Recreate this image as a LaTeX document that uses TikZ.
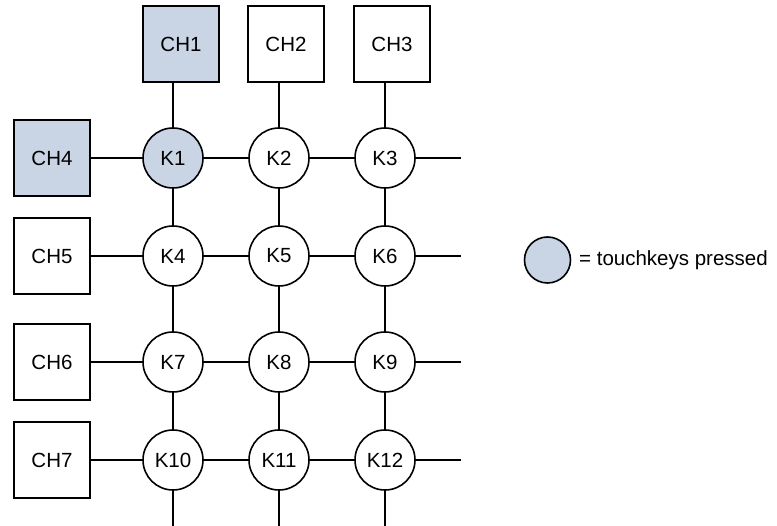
\documentclass[tikz,border=0pt]{standalone}
\usepackage{fontspec}
\setmainfont{Liberation Sans}
\definecolor{pressed}{HTML}{C9D5E5}
\tikzset{
  chbox/.style={draw, line width=1.6pt, minimum width=76pt, minimum height=76pt, inner sep=0pt, font=\fontsize{20.5}{24}\selectfont},
  keyc/.style={draw, circle, line width=1.6pt, minimum size=60pt, inner sep=0pt, font=\fontsize{20.5}{24}\selectfont},
  on/.style={fill=pressed},
  wire/.style={line width=1.6pt}
}
\begin{document}
\begin{tikzpicture}[x=1pt,y=-1pt]
\useasboundingbox (0,0) rectangle (777,526);
% keys
\node[keyc,on] (K1) at (173,158) {K1};
\node[keyc] (K2) at (279,158) {K2};
\node[keyc] (K3) at (385,158) {K3};
\node[keyc] (K4) at (173,256) {K4};
\node[keyc] (K5) at (279,256) {K5};
\node[keyc] (K6) at (385,256) {K6};
\node[keyc] (K7) at (173,362) {K7};
\node[keyc] (K8) at (279,362) {K8};
\node[keyc] (K9) at (385,362) {K9};
\node[keyc] (K10) at (173,460) {K10};
\node[keyc] (K11) at (279,460) {K11};
\node[keyc] (K12) at (385,460) {K12};
% channels
\node[chbox,on] (CH1) at (181,44) {CH1};
\node[chbox] (CH2) at (286,44) {CH2};
\node[chbox] (CH3) at (392,44) {CH3};
\node[chbox,on] (CH4) at (52,158) {CH4};
\node[chbox] (CH5) at (52,256) {CH5};
\node[chbox] (CH6) at (52,362) {CH6};
\node[chbox] (CH7) at (52,460) {CH7};
% free ends
\coordinate (R1) at (461,158);
\coordinate (R2) at (461,256);
\coordinate (R3) at (461,362);
\coordinate (R4) at (461,460);
\coordinate (B1) at (173,526);
\coordinate (B2) at (279,526);
\coordinate (B3) at (385,526);
% column wires
\draw[wire] (K1 |- CH1.south) -- (K1.north);
\draw[wire] (K2 |- CH2.south) -- (K2.north);
\draw[wire] (K3 |- CH3.south) -- (K3.north);
\draw[wire] (K1) -- (K4) -- (K7) -- (K10) -- (B1);
\draw[wire] (K2) -- (K5) -- (K8) -- (K11) -- (B2);
\draw[wire] (K3) -- (K6) -- (K9) -- (K12) -- (B3);
% row wires
\draw[wire] (CH4) -- (K1) -- (K2) -- (K3) -- (R1);
\draw[wire] (CH5) -- (K4) -- (K5) -- (K6) -- (R2);
\draw[wire] (CH6) -- (K7) -- (K8) -- (K9) -- (R3);
\draw[wire] (CH7) -- (K10) -- (K11) -- (K12) -- (R4);
% legend
\node[keyc,on,minimum size=46pt] (L) at (547.5,260) {};
\node[anchor=west, inner sep=0pt, font=\fontsize{20.5}{24}\selectfont] (LT) at (579,260) {= touchkeys pressed};
\end{tikzpicture}
\end{document}
